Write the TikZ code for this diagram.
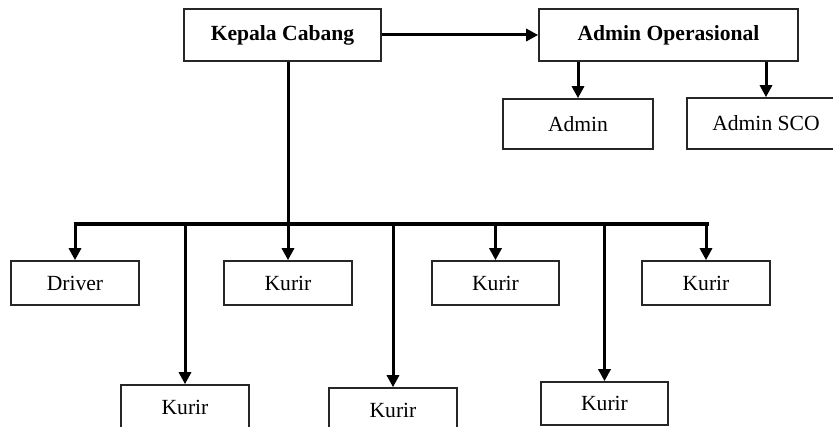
\documentclass[tikz,border=0pt]{standalone}
\usepackage{fontspec}
\setmainfont{Liberation Serif}
\usetikzlibrary{arrows.meta}
\tikzset{
  box/.style={draw=black!85, line width=1.6pt, rectangle, inner sep=0pt,
    font=\fontsize{21.6}{25}\selectfont},
  bbox/.style={box, font=\fontsize{21.6}{25}\selectfont\bfseries},
  link/.style={line width=3pt, -{Triangle[width=12pt,length=12pt]}},
  bar/.style={line width=3.6pt},
}
\begin{document}
\begin{tikzpicture}[x=1pt,y=-1pt]
\useasboundingbox (0,0) rectangle (833,427);
\clip (0,0) rectangle (833,427);
% top
\node[bbox, minimum width=197pt, minimum height=52pt] (kc) at (282.5,35) {Kepala Cabang};
\node[bbox, minimum width=259pt, minimum height=52pt] (ao) at (668.5,35) {Admin Operasional};
\node[box, minimum width=150pt, minimum height=50pt] (adm) at (578,124) {Admin};
\node[box, minimum width=158pt, minimum height=51pt] (sco) at (766,123.5) {Admin SCO};
% row 1
\node[box, minimum width=128pt, minimum height=44pt] (drv) at (75,283) {Driver};
\node[box, minimum width=128pt, minimum height=44pt] (k1) at (288,283) {Kurir};
\node[box, minimum width=127pt, minimum height=44pt] (k2) at (495.5,283) {Kurir};
\node[box, minimum width=128pt, minimum height=44pt] (k3) at (706,283) {Kurir};
% row 2
\node[box, minimum width=128pt, minimum height=44pt] (b1) at (185,407) {Kurir};
\node[box, minimum width=128pt, minimum height=44pt] (b2) at (393,410) {Kurir};
\node[box, minimum width=127pt, minimum height=43pt] (b3) at (604.5,403.5) {Kurir};
% bus
\coordinate (busL) at (75,224);
\coordinate (busR) at (707,224);
\coordinate (trunk) at (288,224);
\draw[bar] ([xshift=-1.5pt]busL) -- ([xshift=1.5pt]busR);
\draw[line width=3pt] (kc.south -| trunk) -- (trunk);
% connectors
\draw[link] (kc.east) -- (ao.west);
\draw[link] (ao.south -| adm.north) -- (adm.north);
\draw[link] (ao.south -| sco.north) -- (sco.north);
\draw[link] (busL) -- (drv.north);
\draw[link] (busL -| k1.north) -- (k1.north);
\draw[link] (busL -| k2.north) -- (k2.north);
\draw[link] (busL -| k3.north) -- (k3.north);
\draw[link] (busL -| b1.north) -- (b1.north);
\draw[link] (busL -| b2.north) -- (b2.north);
\draw[link] (busL -| b3.north) -- (b3.north);
\end{tikzpicture}
\end{document}
